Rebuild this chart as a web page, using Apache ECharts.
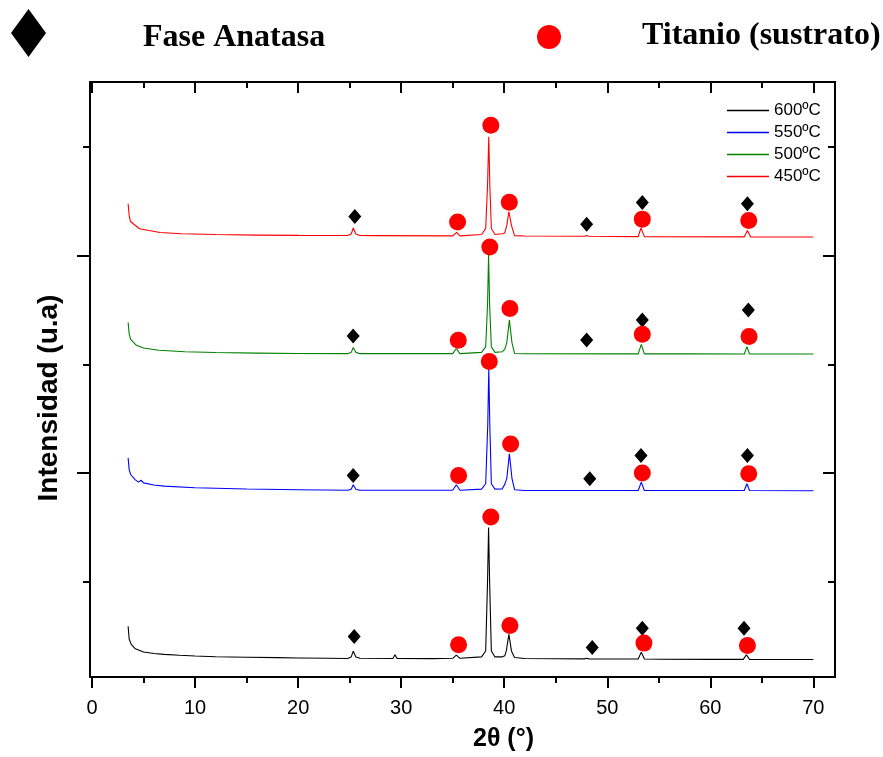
<!DOCTYPE html>
<html lang="es">
<head>
    <meta charset="UTF-8">
    <title>DRX TiO2</title>
    <script src="https://cdn.jsdelivr.net/npm/echarts@6.0.0/dist/echarts.min.js"></script>
    <style>
        body { margin: 0; background: #fff; }
        #chart { width: 883px; height: 757px; }
    </style>
</head>
<body>
<div id="chart"></div>
<script>
    // ejes
    var xMin = -0.2, xMax = 72.1;
    var yMin = 120, yMax = 5600;
    var xMajorTicks = [0, 10, 20, 30, 40, 50, 60, 70];
    var xMinorTicks = [5, 15, 25, 35, 45, 55, 65];
    var yMajorTicks = [2000, 4000];
    var yMinorTicks = [1000, 3000, 5000];

    var seriesNames = ['600ºC', '550ºC', '500ºC', '450ºC'];
    var seriesColors = ['#000000', '#0000ff', '#008000', '#ff0000'];

    // difractogramas (2θ, intensidad desplazada)
    var curve600 = [[3.5, 588], [3.6, 470], [3.8, 420], [4.2, 380], [5, 350], [6, 336], [7, 328], [8.5, 320], [10, 313], [12, 307], [15, 302], [18, 298], [20, 295], [23, 292], [24.8, 291], [25.15, 305], [25.35, 358], [25.6, 305], [26, 292], [29.2, 290], [29.4, 325], [29.6, 290], [33, 289], [35.0, 292], [35.35, 322], [35.7, 292], [37.8, 305], [38.2, 360], [38.38, 1000], [38.48, 1496], [38.58, 1000], [38.75, 360], [39.1, 305], [39.8, 305], [40.05, 315], [40.2, 360], [40.45, 514], [40.7, 360], [41.0, 300], [42, 290], [47.8, 287], [48.0, 292], [48.2, 287], [53, 286], [53.3, 349], [53.6, 286], [55, 283], [60, 282], [63.2, 282], [63.5, 325], [63.8, 282], [66, 281], [70, 281]];
    var curve550 = [[3.5, 2138], [3.6, 2030], [3.75, 1985], [4.2, 1936], [4.5, 1915], [4.75, 1932], [5.0, 1908], [6, 1888], [7, 1878], [10, 1863], [15, 1852], [20, 1845], [24.8, 1840], [25.15, 1850], [25.35, 1891], [25.6, 1850], [26, 1840], [35.0, 1840], [35.35, 1891], [35.7, 1840], [37.8, 1850], [38.2, 1900], [38.4, 2441], [38.5, 2961], [38.6, 2441], [38.75, 1900], [39.1, 1850], [39.8, 1852], [40.05, 1894], [40.25, 1950], [40.5, 2175], [40.75, 1950], [41.0, 1845], [42, 1838], [48.0, 1838], [53.0, 1838], [53.3, 1915], [53.6, 1838], [63.3, 1838], [63.55, 1900], [63.8, 1838], [70, 1836]];
    var curve500 = [[3.5, 3386], [3.6, 3280], [3.75, 3230], [4.3, 3175], [5, 3150], [6.5, 3130], [9, 3115], [12, 3108], [16, 3103], [20, 3100], [24.8, 3098], [25.15, 3110], [25.35, 3154], [25.6, 3110], [26, 3098], [35.0, 3098], [35.35, 3145], [35.7, 3098], [37.8, 3110], [38.2, 3160], [38.38, 3550], [38.48, 4010], [38.58, 3550], [38.75, 3160], [39.1, 3110], [39.8, 3115], [40.05, 3138], [40.25, 3200], [40.5, 3407], [40.75, 3200], [41.0, 3100], [42, 3097], [53.0, 3096], [53.3, 3184], [53.6, 3096], [57.6, 3096], [63.3, 3095], [63.55, 3163], [63.8, 3095], [70, 3095]];
    var curve450 = [[3.5, 4478], [3.6, 4370], [3.73, 4315], [4.6, 4248], [6.6, 4214], [8.7, 4202], [12, 4195], [16, 4190], [20, 4187], [24.8, 4186], [25.15, 4200], [25.35, 4255], [25.6, 4200], [26, 4186], [27.3, 4185], [27.45, 4198], [27.6, 4185], [35.0, 4183], [35.38, 4214], [35.7, 4183], [37.8, 4195], [38.2, 4250], [38.38, 4650], [38.5, 5095], [38.6, 4650], [38.75, 4250], [39.1, 4195], [39.8, 4202], [40.05, 4210], [40.25, 4280], [40.45, 4407], [40.7, 4280], [41.0, 4185], [42, 4181], [47.8, 4179], [48.0, 4186], [48.2, 4179], [53.0, 4176], [53.27, 4255], [53.6, 4176], [63.3, 4174], [63.6, 4233], [63.9, 4174], [70, 4172]];

    // marcas de fase: anatasa (rombos) y titanio (circulos)
    var anatasa600 = [[25.44, 493], [48.54, 392], [53.4, 570], [63.27, 570]];
    var anatasa550 = [[25.34, 1976], [48.3, 1946], [53.27, 2159], [63.6, 2159]];
    var anatasa500 = [[25.34, 3260], [48.0, 3224], [53.4, 3407], [63.69, 3499]];
    var anatasa450 = [[25.5, 4361], [48.0, 4291], [53.4, 4490], [63.6, 4478]];
    var titanio600 = [[35.57, 416], [38.7, 1594], [40.55, 594], [53.56, 432], [63.6, 411]];
    var titanio550 = [[35.57, 1976], [38.55, 3025], [40.62, 2267], [53.4, 1998], [63.73, 1992]];
    var titanio500 = [[35.54, 3221], [38.6, 4080], [40.55, 3514], [53.4, 3276], [63.76, 3255]];
    var titanio450 = [[35.47, 4310], [38.7, 5202], [40.49, 4493], [53.4, 4337], [63.73, 4324]];

    var curves = [curve600, curve550, curve500, curve450];

    var sansFont = '"Liberation Sans", Arial, sans-serif';
    var serifFont = '"Liberation Serif", "Times New Roman", serif';

    function xAxisOf(position, ticks, len, inside, showLine, showLabel) {
        return {
            type: 'value', position: position, min: xMin, max: xMax,
            axisLine: {show: showLine, onZero: false, lineStyle: {color: '#000', width: 2}},
            axisTick: {show: true, inside: inside, length: len, customValues: ticks, lineStyle: {color: '#000', width: 2}},
            axisLabel: {show: showLabel, customValues: ticks, margin: 21, color: '#000', fontSize: 20, fontFamily: sansFont},
            splitLine: {show: false}
        };
    }

    function yAxisOf(position, ticks, len, inside, showLine) {
        return {
            type: 'value', position: position, min: yMin, max: yMax,
            axisLine: {show: showLine, onZero: false, lineStyle: {color: '#000', width: 2}},
            axisTick: {show: true, inside: inside, length: len, customValues: ticks, lineStyle: {color: '#000', width: 2}},
            axisLabel: {show: false},
            splitLine: {show: false}
        };
    }

    var xAxes = [
        xAxisOf('bottom', xMajorTicks, 11, false, true, true),
        xAxisOf('bottom', xMinorTicks, 6, false, false, false),
        xAxisOf('top', xMajorTicks, 11, true, true, false),
        xAxisOf('top', xMinorTicks, 6, true, false, false)
    ];
    xAxes[0].name = '2θ (°)';
    xAxes[0].nameLocation = 'middle';
    xAxes[0].nameGap = 50;
    xAxes[0].nameTextStyle = {color: '#000', fontSize: 25, fontWeight: 'bold', fontFamily: sansFont, padding: [0, 0, 0, 82]};

    var yAxes = [
        yAxisOf('left', yMajorTicks, 13, false, true),
        yAxisOf('left', yMinorTicks, 7, false, false),
        yAxisOf('right', yMajorTicks, 12, true, true),
        yAxisOf('right', yMinorTicks, 7, true, false)
    ];
    yAxes[0].name = 'Intensidad (u.a)';
    yAxes[0].nameLocation = 'middle';
    yAxes[0].nameGap = 27;
    yAxes[0].nameTextStyle = {color: '#000', fontSize: 28, fontWeight: 'bold', fontFamily: sansFont, padding: [0, 37, 0, 0]};

    var serieData = [];
    for (var i = 0; i < curves.length; i++) {
        serieData.push({
            name: seriesNames[i],
            type: 'line',
            data: curves[i],
            showSymbol: false,
            symbol: 'none',
            color: seriesColors[i],
            lineStyle: {width: 1.1, color: seriesColors[i]},
            z: 2
        });
    }
    serieData.push({
        name: 'Fase Anatasa',
        type: 'scatter',
        symbol: 'diamond',
        symbolSize: [13, 15],
        itemStyle: {color: '#000', opacity: 1},
        data: anatasa600.concat(anatasa550, anatasa500, anatasa450),
        z: 5
    });
    serieData.push({
        name: 'Titanio (sustrato)',
        type: 'scatter',
        symbol: 'circle',
        symbolSize: 17,
        itemStyle: {color: '#ff0000', opacity: 1},
        data: titanio600.concat(titanio550, titanio500, titanio450),
        z: 6
    });

    var topTextStyle = {color: '#000', fontSize: 32, fontWeight: 'bold', fontFamily: serifFont};

    var option = {
        animation: false,
        backgroundColor: '#fff',
        grid: {left: 90, right: 48, top: 82, bottom: 78, containLabel: false},
        legend: [{
            orient: 'vertical',
            left: 727,
            top: 102,
            padding: 0,
            itemWidth: 42,
            itemHeight: 1.5,
            itemGap: 5,
            icon: 'rect',
            data: seriesNames,
            textStyle: {color: '#000', fontSize: 17, fontFamily: sansFont}
        }, {
            left: 11,
            top: 9,
            padding: 0,
            itemWidth: 35,
            itemHeight: 48,
            icon: 'diamond',
            data: ['Fase Anatasa'],
            itemStyle: {opacity: 1},
            formatter: '{t|{name}}',
            textStyle: {
                color: '#000',
                rich: {t: Object.assign({padding: [10, 0, 0, 92]}, topTextStyle)}
            }
        }, {
            left: 537,
            top: 20,
            padding: 0,
            itemWidth: 24,
            itemHeight: 24,
            icon: 'circle',
            data: ['Titanio (sustrato)'],
            itemStyle: {opacity: 1},
            formatter: '{t|{name}}',
            textStyle: {
                color: '#000',
                rich: {t: Object.assign({padding: [0, 0, 2, 76]}, topTextStyle)}
            }
        }],
        xAxis: xAxes,
        yAxis: yAxes,
        series: serieData
    };

    var myChart = echarts.init(document.getElementById('chart'));
    myChart.setOption(option);
</script>
</body>
</html>
